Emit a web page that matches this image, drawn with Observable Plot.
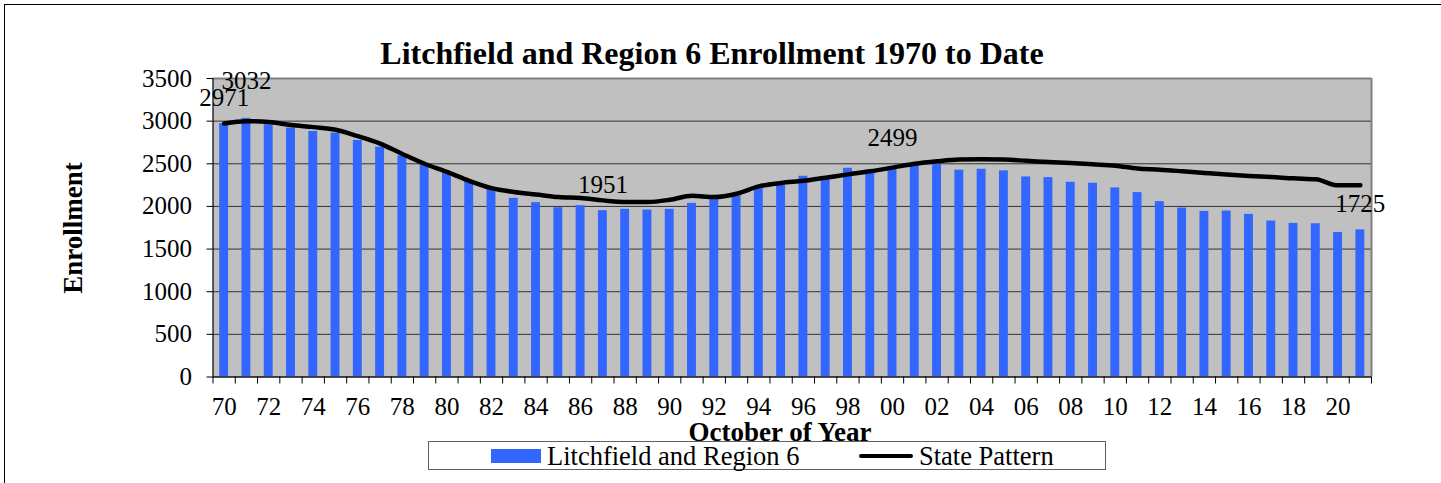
<!DOCTYPE html>
<html>
<head>
<meta charset="utf-8">
<script src="https://cdn.jsdelivr.net/npm/d3@7"></script>
<script src="https://cdn.jsdelivr.net/npm/@observablehq/plot@0.6"></script>
<style>
  html, body { margin: 0; padding: 0; background: #fff; overflow: hidden; width: 1441px; height: 483px; }
  #wrap { position: relative; width: 1441px; height: 483px; font-family: "Liberation Serif", "Times New Roman", serif; }
  #outer { position: absolute; left: 4px; top: 4px; width: 1460px; height: 500px; border: 1.5px solid #000; box-sizing: border-box; }
  #chart { position: absolute; left: 0; top: 0; }
  .lbl { position: absolute; white-space: nowrap; color: #000; }
  #title { left: 712px; top: 53px; transform: translate(-50%, -50%); font-size: 32px; font-weight: bold; }
  #xtitle { left: 780px; top: 432px; transform: translate(-50%, -50%); font-size: 27px; line-height: 20px; font-weight: bold; }
  #ytitle { left: 73px; top: 228px; transform: translate(-50%, -50%) rotate(-90deg); font-size: 27px; font-weight: bold; }
  #legend { position: absolute; left: 428px; top: 441px; width: 678px; height: 29px; border: 1px solid #606060; box-sizing: border-box; background: #fff; font-size: 26.5px; }
  #legend .sw { position: absolute; left: 62px; top: 7px; width: 50px; height: 14px; background: #3366FF; }
  #legend .t1 { position: absolute; left: 118px; top: 50%; transform: translateY(-50%); }
  #legend .ln { position: absolute; left: 430px; top: 12px; width: 54px; height: 4px; background: #000; border-radius: 2px; }
  #legend .t2 { position: absolute; left: 490px; top: 50%; transform: translateY(-50%); }
</style>
</head>
<body>
<div id="wrap">
  <div id="outer"></div>
  <div id="chart"></div>
  <div class="lbl" id="title">Litchfield and Region 6 Enrollment 1970 to Date</div>
  <div class="lbl" id="ytitle">Enrollment</div>
  <div id="legend">
    <div class="sw"></div><div class="lbl t1">Litchfield and Region 6</div>
    <div class="ln"></div><div class="lbl t2">State Pattern</div>
  </div>
  <div class="lbl" id="xtitle">October of Year</div>
</div>
<script>
const years = d3.range(1970, 2022);
const enrollment = [
  2971, 3032, 2958, 2919, 2879, 2860, 2774, 2695, 2593, 2498,
  2397, 2299, 2197, 2095, 2044, 1985, 2009, 1951, 1966, 1958,
  1966, 2036, 2087, 2123, 2213, 2252, 2354, 2330, 2448, 2409,
  2460, 2484, 2490, 2425, 2436, 2417, 2346, 2338, 2283, 2272,
  2217, 2162, 2056, 1981, 1942, 1946, 1907, 1829, 1801, 1797,
  1695, 1725
];
const statePattern = [
  2973, 3000, 2990, 2955, 2930, 2900, 2824, 2737, 2615, 2500,
  2405, 2300, 2215, 2170, 2140, 2110, 2098, 2071, 2052, 2052,
  2078, 2125, 2110, 2149, 2235, 2275, 2300, 2337, 2376, 2412,
  2455, 2500, 2529, 2549, 2552, 2549, 2535, 2520, 2508, 2494,
  2478, 2445, 2431, 2412, 2392, 2373, 2357, 2345, 2329, 2318,
  2247, 2247
];
const labelYears = [1970, 1987, 2000, 2021];
const labelValues = [2971, 1951, 2499, 1725];
const topLabelYears = [1971];
const topLabelValues = [3032];
const yTicks = [0, 500, 1000, 1500, 2000, 2500, 3000, 3500];
const xLabelYears = years.filter(y => y % 2 === 0);

const bars = years.map((year, i) => ({year, value: enrollment[i]}));
const state = years.map((year, i) => ({year, value: statePattern[i]}));
const labels = labelYears.map((year, i) => ({year, value: labelValues[i]}));
const topLabels = topLabelYears.map((year, i) => ({year, value: topLabelValues[i]}));
const boundaries = years.map(y => y - 0.5).concat([years[years.length - 1] + 0.5]);
const x0 = years[0] - 0.5, x1 = years[years.length - 1] + 0.5;
const halfBar = 0.2;

const chart = Plot.plot({
  width: 1441,
  height: 483,
  marginLeft: 212.5,
  marginRight: 70,
  marginTop: 78,
  marginBottom: 106.5,
  style: { fontFamily: "'Liberation Serif', 'Times New Roman', serif", background: "transparent", overflow: "visible" },
  x: { type: "linear", domain: [x0, x1] },
  y: { domain: [0, 3500] },
  marks: [
    Plot.frame({ fill: "#C0C0C0", stroke: "none" }),
    Plot.gridY(yTicks, { stroke: "#333", strokeOpacity: 1, strokeWidth: 1 }),
    Plot.ruleY([3500], { stroke: "#808080", strokeWidth: 2 }),
    Plot.ruleX([x1], { stroke: "#808080", strokeWidth: 2 }),
    Plot.rectY(bars, { x1: d => d.year - halfBar, x2: d => d.year + halfBar, y: "value", fill: "#3366FF" }),
    Plot.line(state, { x: "year", y: "value", stroke: "#000", strokeWidth: 4.5, curve: "monotone-x", strokeLinejoin: "round", strokeLinecap: "round" }),
    Plot.ruleX([x0], { stroke: "#000", strokeWidth: 1.2 }),
    Plot.ruleY([0], { stroke: "#000", strokeWidth: 1.2 }),
    Plot.axisY({ ticks: yTicks, tickSize: 6, tickPadding: 15, fontSize: 25, tickFormat: d => String(d), label: null, stroke: "#000" }),
    Plot.axisX({ ticks: boundaries, tickSize: 7, tickFormat: () => "", label: null, stroke: "#000" }),
    Plot.axisX({ ticks: xLabelYears, tickSize: 0, tickPadding: 20, fontSize: 25, tickFormat: d => String(d % 100).padStart(2, "0"), label: null }),
    Plot.text(labels, { x: "year", y: "value", text: d => String(d.value), dy: -25.5, fontSize: 25, fill: "#000" }),
    Plot.text(topLabels, { x: "year", y: "value", text: d => String(d.value), dy: -37, fontSize: 25, fill: "#000" })
  ]
});
document.getElementById("chart").appendChild(chart);
</script>
</body>
</html>
